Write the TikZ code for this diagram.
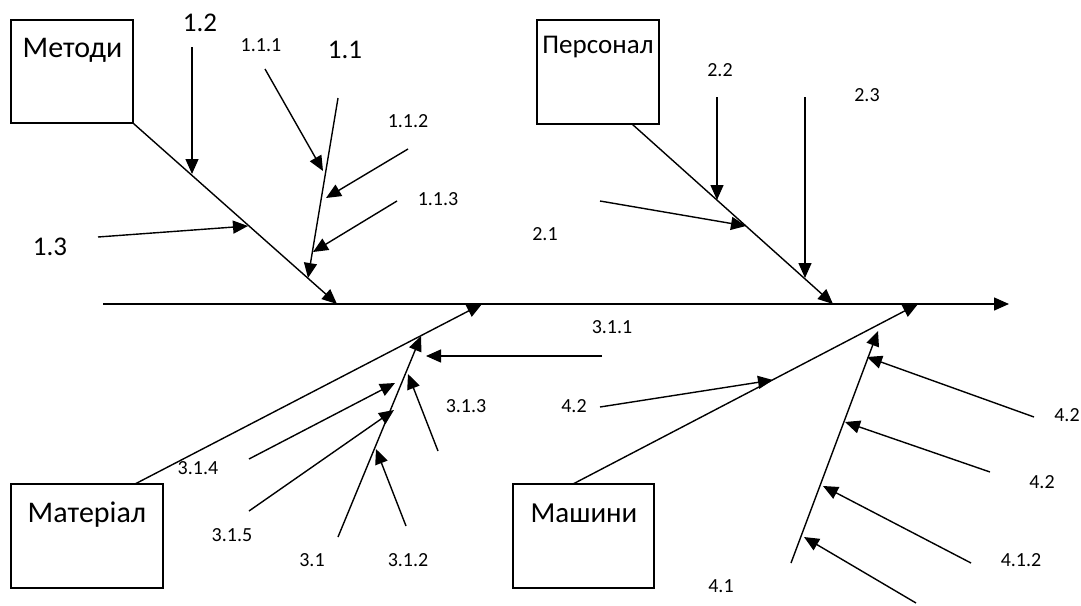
\documentclass[tikz,border=0pt]{standalone}
\usepackage{fontspec}
\setmainfont{Carlito}
\usetikzlibrary{arrows.meta}
\begin{document}
\begin{tikzpicture}[x=1pt,y=-1pt,
  arr/.style={line width=1.4pt,-{Triangle[length=15pt,width=13pt]}},
  box/.style={draw,line width=1.4pt,inner sep=0pt},
  big/.style={inner sep=0pt,font=\fontsize{27}{30}\selectfont},
  sml/.style={inner sep=0pt,font=\fontsize{20}{23}\selectfont},
  btxt/.style={inner sep=0pt,anchor=base,font=\fontsize{30}{33}\selectfont}]
\useasboundingbox (0,0) rectangle (1081,605);
% boxes
\node[box,minimum width=122pt,minimum height=103pt] (m) at (72,71.5) {};
\node[box,minimum width=122pt,minimum height=104pt] (p) at (598,72) {};
\node[box,minimum width=152pt,minimum height=104pt] (mt) at (87,536) {};
\node[box,minimum width=141pt,minimum height=104pt] (ms) at (583.5,536) {};
\node[btxt] (mtxt) at (72.5,57) {Методи};
\node[btxt,font=\fontsize{27}{30}\selectfont] (ptxt) at (598,53) {Персонал};
\node[btxt] (mttxt) at (87,522) {Матеріал};
\node[btxt,font=\fontsize{29}{32}\selectfont] (mstxt) at (584,522) {Машини};
% spine
\coordinate (sL) at (103,304);
\coordinate (sR) at (1009,304);
\draw[arr] (sL) -- (sR);
% methods
\coordinate (mT) at (337,304);
\draw[arr] (m.south east) -- (mT);
\coordinate (a12) at (192,47);   \coordinate (b12) at (192,174);
\coordinate (a13) at (98,237);   \coordinate (b13) at (248,226);
\coordinate (a11) at (338,98);   \coordinate (b11) at (308,278);
\coordinate (a111) at (265,69);  \coordinate (b111) at (323,171);
\coordinate (a112) at (408,149); \coordinate (b112) at (326,198);
\coordinate (a113) at (397,201); \coordinate (b113) at (313,252);
\draw[arr] (a12) -- (b12);
\draw[arr] (a13) -- (b13);
\draw[arr] (a11) -- (b11);
\draw[arr] (a111) -- (b111);
\draw[arr] (a112) -- (b112);
\draw[arr] (a113) -- (b113);
% personnel
\coordinate (pA) at (632,124);
\coordinate (pT) at (833,304);
\draw[arr] (pA) -- (pT);
\coordinate (a22) at (717,97);  \coordinate (b22) at (717,200);
\coordinate (a23) at (805,97);  \coordinate (b23) at (805,278);
\coordinate (a21) at (600,201); \coordinate (b21) at (746,226);
\draw[arr] (a22) -- (b22);
\draw[arr] (a23) -- (b23);
\draw[arr] (a21) -- (b21);
% materials
\coordinate (mtA) at (135,484);
\coordinate (mtT) at (482,304);
\draw[arr] (mtA) -- (mtT);
\coordinate (a31) at (338,537);  \coordinate (b31) at (421,336);
\coordinate (a311) at (602,356); \coordinate (b311) at (426,356);
\coordinate (a313) at (438,451); \coordinate (b313) at (408,374);
\coordinate (a312) at (406,526); \coordinate (b312) at (376,449);
\coordinate (a314) at (249,459); \coordinate (b314) at (395,383);
\coordinate (a315) at (249,511); \coordinate (b315) at (394,410);
\draw[arr] (a31) -- (b31);
\draw[arr] (a311) -- (b311);
\draw[arr] (a313) -- (b313);
\draw[arr] (a312) -- (b312);
\draw[arr] (a314) -- (b314);
\draw[arr] (a315) -- (b315);
% machines
\coordinate (msA) at (573,484);
\coordinate (msT) at (918,304);
\draw[arr] (msA) -- (msT);
\coordinate (a42L) at (600,407); \coordinate (b42L) at (773,380);
\coordinate (a41) at (791,563);  \coordinate (b41) at (878,331);
\coordinate (a42) at (1034,417); \coordinate (b42) at (867,357);
\coordinate (a42b) at (990,472); \coordinate (b42b) at (845,422);
\coordinate (a412) at (971,563); \coordinate (b412) at (823,486);
\coordinate (a4x) at (916,603);  \coordinate (b4x) at (804,537);
\draw[arr] (a42L) -- (b42L);
\draw[arr] (a41) -- (b41);
\draw[arr] (a42) -- (b42);
\draw[arr] (a42b) -- (b42b);
\draw[arr] (a412) -- (b412);
\draw[arr] (a4x) -- (b4x);
% labels
\node[big] (l12) at (200,23) {1.2};
\node[big] (l11) at (345,50) {1.1};
\node[big] (l13) at (50,247) {1.3};
\node[sml] (l111) at (261,45) {1.1.1};
\node[sml] (l112) at (408,121) {1.1.2};
\node[sml] (l113) at (438,199) {1.1.3};
\node[sml] (l22) at (720,70) {2.2};
\node[sml] (l23) at (867,95) {2.3};
\node[sml] (l21) at (545,234) {2.1};
\node[sml] (l311) at (612,327) {3.1.1};
\node[sml] (l313) at (466,406) {3.1.3};
\node[sml] (l314) at (198,468) {3.1.4};
\node[sml] (l315) at (232,535) {3.1.5};
\node[sml] (l31) at (312,560) {3.1};
\node[sml] (l312) at (408,560) {3.1.2};
\node[sml] (l42L) at (574,406) {4.2};
\node[sml] (l42a) at (1067,415) {4.2};
\node[sml] (l42b) at (1042,482) {4.2};
\node[sml] (l412) at (1021,560) {4.1.2};
\node[sml] (l41) at (721,586) {4.1};
\end{tikzpicture}
\end{document}
